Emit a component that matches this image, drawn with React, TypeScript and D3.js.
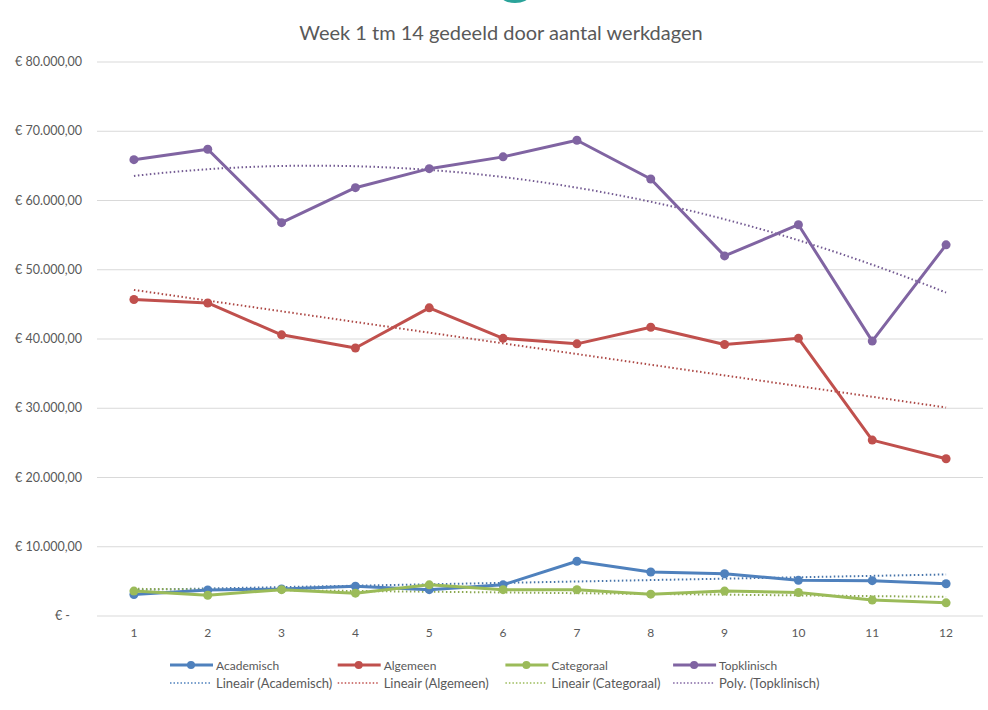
import React from 'react';
import * as d3 from 'd3';

const weeks = [1, 2, 3, 4, 5, 6, 7, 8, 9, 10, 11, 12];
const academisch = [3100, 3750, 3900, 4300, 3800, 4500, 7900, 6350, 6100, 5150, 5100, 4650];
const algemeen = [45700, 45200, 40600, 38700, 44500, 40100, 39300, 41700, 39200, 40100, 25400, 22700];
const categoraal = [3600, 3000, 3800, 3300, 4500, 3800, 3800, 3150, 3600, 3400, 2300, 1900];
const topklinisch = [65900, 67400, 56800, 61850, 64600, 66300, 68700, 63100, 52000, 56500, 39700, 53600];
const yTicks = [0, 10000, 20000, 30000, 40000, 50000, 60000, 70000, 80000];
const title = 'Week 1 tm 14 gedeeld door aantal werkdagen';

const series = [
  { name: 'Academisch', values: academisch, color: '#4F81BD', trend: 'Lineair (Academisch)', order: 1 },
  { name: 'Algemeen', values: algemeen, color: '#C0504D', trend: 'Lineair (Algemeen)', order: 1 },
  { name: 'Categoraal', values: categoraal, color: '#9BBB59', trend: 'Lineair (Categoraal)', order: 1 },
  { name: 'Topklinisch', values: topklinisch, color: '#8064A2', trend: 'Poly. (Topklinisch)', order: 2 },
];

// least squares polynomial fit (like Excel trendline)
function polyFit(xs: number[], ys: number[], order: number) {
  const n = order + 1;
  const A: number[][] = [];
  for (let i = 0; i < n; i++) {
    A.push([]);
    for (let j = 0; j < n; j++) A[i].push(d3.sum(xs, x => Math.pow(x, i + j)));
    A[i].push(d3.sum(xs, (x, k) => Math.pow(x, i) * ys[k]));
  }
  for (let i = 0; i < n; i++) {
    for (let r = i + 1; r < n; r++) {
      const f = A[r][i] / A[i][i];
      for (let c = i; c <= n; c++) A[r][c] -= f * A[i][c];
    }
  }
  const coef = new Array(n).fill(0);
  for (let i = n - 1; i >= 0; i--) {
    let s = A[i][n];
    for (let j = i + 1; j < n; j++) s -= A[i][j] * coef[j];
    coef[i] = s / A[i][i];
  }
  return (x: number) => coef.reduce((acc, c, i) => acc + c * Math.pow(x, i), 0);
}

const fmt = (v: number) => {
  if (v === 0) return '€ -';
  return '€ ' + d3.format(',.2f')(v).replace(/,/g, '#').replace('.', ',').replace(/#/g, '.');
};

export default function App() {
  const width = 988;
  const height = 710;
  const left = 97, right = 983, top = 62, bottom = 616;

  const x = d3.scaleBand<number>().domain(weeks).range([left, right]);
  const cx = (w: number) => (x(w) as number) + x.bandwidth() / 2;
  const xl = d3.scaleLinear().domain([1, 12]).range([cx(1), cx(12)]);
  const y = d3.scaleLinear().domain([0, 80000]).range([bottom, top]);

  const line = d3.line<number>().x((_, i) => cx(weeks[i])).y(d => y(d));
  const fine = d3.range(1, 12.001, 0.1);

  const textColor = '#595959';
  const font = 'Lato, "Open Sans", sans-serif';

  return (
    <svg width={width} height={height} style={{ position: 'absolute', left: 0, top: 0, background: '#fff' }}
      fontFamily={font}>
      <ellipse cx={515} cy={-4} rx={14} ry={7} fill="#2aa39a" />
      <text x={501} y={40} textAnchor="middle" fontSize={20} fill={textColor}>{title}</text>

      {yTicks.map(t => (
        <g key={t}>
          <line x1={left} x2={right} y1={y(t)} y2={y(t)} stroke="#d9d9d9" strokeWidth={1} />
          <text x={t === 0 ? 70 : 82} y={y(t) + 4} textAnchor="end" fontSize={12.5} fill={textColor}>{fmt(t)}</text>
        </g>
      ))}
      {weeks.map(w => (
        <text key={w} x={cx(w)} y={637} textAnchor="middle" fontSize={12} fill={textColor}>{w}</text>
      ))}

      {series.map(s => {
        const f = polyFit(weeks, s.values, s.order);
        const trend = d3.line<number>().x(v => xl(v)).y(v => y(f(v)))(fine) || '';
        return (
          <path key={s.name + 't'} d={trend} fill="none" stroke={d3.color(s.color)!.darker(0.3).toString()}
            strokeWidth={2} strokeDasharray="1.5,2.5" />
        );
      })}

      {series.map(s => (
        <g key={s.name}>
          <path d={line(s.values) || ''} fill="none" stroke={s.color} strokeWidth={3} strokeLinejoin="round" />
          {s.values.map((v, i) => (
            <circle key={i} cx={cx(weeks[i])} cy={y(v)} r={4.5} fill={s.color} />
          ))}
        </g>
      ))}

      {series.map((s, i) => {
        const lx = 170 + i * 167.7;
        return (
          <g key={s.name + 'l'}>
            <line x1={lx} x2={lx + 43} y1={665} y2={665} stroke={s.color} strokeWidth={3} />
            <circle cx={lx + 21} cy={665} r={4} fill={s.color} />
            <text x={lx + 46} y={669.5} fontSize={12} fill={textColor}>{s.name}</text>
            <line x1={lx} x2={lx + 41} y1={683} y2={683} stroke={s.color} strokeWidth={1.5} strokeDasharray="1.5,2" />
            <text x={lx + 46} y={687.5} fontSize={13} fill={textColor}>{s.trend}</text>
          </g>
        );
      })}
    </svg>
  );
}
